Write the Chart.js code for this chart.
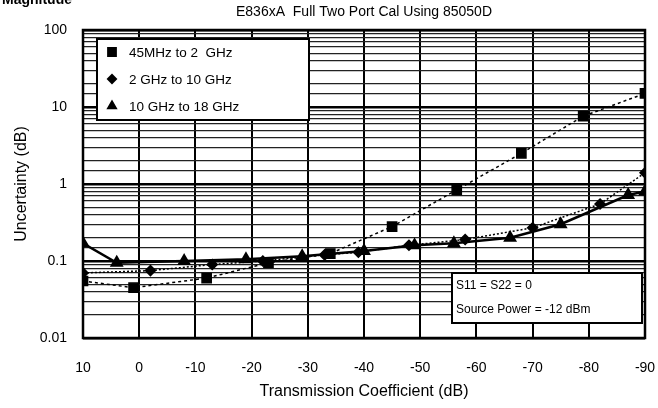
<!DOCTYPE html>
<html>
<head>
<meta charset="utf-8">
<script src="https://cdn.jsdelivr.net/npm/chart.js@4/dist/chart.umd.min.js"></script>
<style>
html,body{margin:0;padding:0;background:#fff;}
#wrap{width:658px;height:408px;position:relative;}
</style>
</head>
<body>
<div id="wrap"><canvas id="c" width="658" height="408"></canvas></div>
<script>
// ---- data ----
const titleText = "E836xA  Full Two Port Cal Using 85050D";
const cornerText = "Magnitude";
const xTitle = "Transmission Coefficient (dB)";
const yTitle = "Uncertainty (dB)";
const seriesLabels = ["45MHz to 2  GHz", "2 GHz to 10 GHz", "10 GHz to 18 GHz"];
const noteLines = ["S11 = S22 = 0", "Source Power = -12 dBm"];

const sqX = [10, 1, -12, -23, -34, -45, -56.5, -68, -79, -90];
const sqY = [0.055, 0.045, 0.06, 0.095, 0.125, 0.28, 0.84, 2.5, 7.6, 15];

const dmX = [10, -2, -13, -22, -33, -39, -48, -58, -70, -82, -90];
const dmY = [0.07, 0.075, 0.09, 0.1, 0.12, 0.13, 0.16, 0.19, 0.27, 0.55, 1.4];

const trX = [10, 4, -8, -19, -29, -40, -49, -56, -66, -75, -87, -90];
const trY = [0.17, 0.095, 0.1, 0.105, 0.115, 0.135, 0.16, 0.17, 0.2, 0.3, 0.72, 0.8];

const xTicks = [10, 0, -10, -20, -30, -40, -50, -60, -70, -80, -90];
const yMajor = [0.01, 0.1, 1, 10, 100];

function pts(xs, ys){ return xs.map((x,i)=>({x:x, y:ys[i]})); }
const FONT = "'Liberation Sans', Arial, sans-serif";

function isMajor(v){ return yMajor.some(m => Math.abs(v/m - 1) < 1e-6); }

const overlay = {
  id: 'overlay',
  afterDraw(chart){
    const ctx = chart.ctx;
    const ca = chart.chartArea;
    ctx.save();
    // frame
    ctx.strokeStyle = '#000'; ctx.lineWidth = 2.5;
    ctx.strokeRect(ca.left, ca.top, ca.right - ca.left, ca.bottom - ca.top);
    // title centred over the plot area
    ctx.fillStyle = '#000';
    ctx.font = "14px " + FONT;
    ctx.textAlign = 'center'; ctx.textBaseline = 'middle';
    ctx.fillText(titleText, (ca.left + ca.right) / 2, 12);
    // corner text (cut at top)
    ctx.font = "bold 14px " + FONT;
    ctx.textBaseline = 'alphabetic'; ctx.textAlign = 'left';
    ctx.fillText(cornerText, 2, 4);
    // legend box
    const lx = 97, ly = 39, lw = 212, lh = 81;
    ctx.fillStyle = '#fff'; ctx.fillRect(lx, ly, lw, lh);
    ctx.strokeStyle = '#000'; ctx.lineWidth = 2; ctx.strokeRect(lx, ly, lw, lh);
    ctx.font = "13.5px " + FONT; ctx.textBaseline = 'middle';
    const rows = [52, 79, 106];
    chart.data.datasets.forEach((ds, i) => {
      ctx.fillStyle = '#000';
      Chart.helpers.drawPoint(ctx, {pointStyle: ds.pointStyle, radius: ds.pointRadius - 1, borderWidth: 1}, 112, rows[i]);
      ctx.fill();
      ctx.fillText(ds.label, 129, rows[i] + 1);
    });
    // note box
    const nx = 452, ny = 273, nw = 190, nh = 50;
    ctx.fillStyle = '#fff'; ctx.fillRect(nx, ny, nw, nh);
    ctx.strokeStyle = '#000'; ctx.lineWidth = 2; ctx.strokeRect(nx, ny, nw, nh);
    ctx.fillStyle = '#000'; ctx.font = "12px " + FONT;
    ctx.fillText(noteLines[0], 456, 286);
    ctx.fillText(noteLines[1], 456, 310);
    ctx.restore();
  }
};

new Chart(document.getElementById('c'), {
  type: 'scatter',
  data: {
    datasets: [
      { label: seriesLabels[0], data: pts(sqX, sqY), showLine: true,
        borderColor: '#000', backgroundColor: '#000', borderWidth: 1.5, borderDash: [3,3],
        pointStyle: 'rect', pointRadius: 6.5, pointHoverRadius: 6.5 },
      { label: seriesLabels[1], data: pts(dmX, dmY), showLine: true,
        borderColor: '#000', backgroundColor: '#000', borderWidth: 1.5, borderDash: [2,2],
        pointStyle: 'rectRot', pointRadius: 5, pointHoverRadius: 5 },
      { label: seriesLabels[2], data: pts(trX, trY), showLine: true,
        borderColor: '#000', backgroundColor: '#000', borderWidth: 2.5,
        pointStyle: 'triangle', pointRadius: 5.5, pointHoverRadius: 5.5 }
    ]
  },
  options: {
    responsive: false,
    animation: false,
    events: [],
    layout: { padding: { left: 0, right: 13, top: 30, bottom: 7 } },
    plugins: {
      legend: { display: false },
      tooltip: { enabled: false },
      title: { display: false }
    },
    scales: {
      x: {
        type: 'linear', min: -90, max: 10, reverse: true,
        afterBuildTicks(scale){ scale.ticks = xTicks.map(v => ({value: v})); },
        afterFit(scale){ scale.height = 63; scale.paddingLeft = 0; scale.paddingRight = 0; },
        ticks: { color: '#000', font: { family: FONT, size: 14 }, padding: 22, maxRotation: 0,
                 callback: v => String(v) },
        grid: { color: '#000', lineWidth: 2, drawTicks: false },
        border: { display: false },
        title: { display: true, text: xTitle, color: '#000', font: { family: FONT, size: 16 }, padding: { top: 0, bottom: 0 } }
      },
      y: {
        type: 'logarithmic', min: 0.01, max: 100,
        afterFit(scale){ scale.width = 83; scale.paddingTop = 0; scale.paddingBottom = 0; },
        ticks: { color: '#000', font: { family: FONT, size: 14 }, padding: 16, autoSkip: false,
                 callback: v => isMajor(v) ? String(Number(v.toPrecision(3))) : '' },
        grid: { drawTicks: false,
                color: c => isMajor(c.tick.value) ? '#000' : '#222',
                lineWidth: c => isMajor(c.tick.value) ? 2.5 : 1.2 },
        border: { display: false },
        title: { display: true, text: yTitle, color: '#000', font: { family: FONT, size: 16 }, padding: { top: 12, bottom: 0 } }
      }
    }
  },
  plugins: [overlay]
});
</script>
</body>
</html>
